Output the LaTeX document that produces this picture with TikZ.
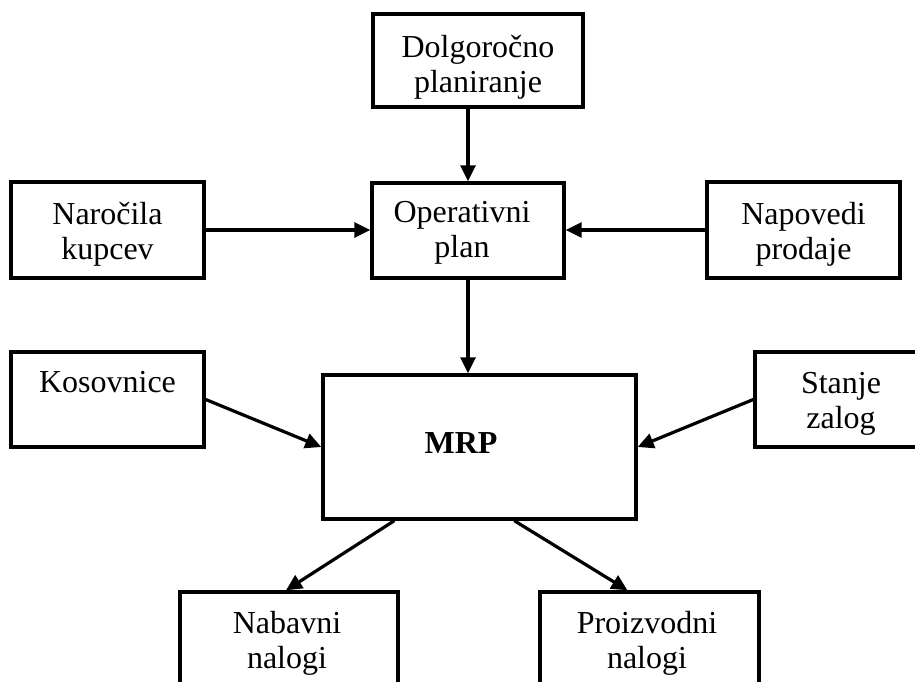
\documentclass[tikz,border=0pt]{standalone}
\usepackage{fontspec}
\setmainfont{Liberation Serif}
\usetikzlibrary{arrows.meta,calc}
% invisible strut fixing the height of a first text line above its baseline
\newcommand{\firstline}{\rule{0pt}{30pt}}
\begin{document}
\begin{tikzpicture}[x=1pt,y=-1pt,
  box/.style={draw=black,line width=3.4pt,rectangle,inner sep=0pt},
  label text/.style={inner sep=0pt,anchor=north,align=center,
    font=\fontsize{32}{35.5}\selectfont},
  flow/.style={draw=black,line width=3.2pt,
    -{Triangle[length=16pt,width=15pt]}}]
\useasboundingbox (0,0) rectangle (915,682);
\clip (0,0) rectangle (915,682);

% boxes
\node[box,minimum width=210pt,minimum height=93pt] (dolg) at (478,60.5) {};
\node[box,minimum width=192pt,minimum height=95pt] (oper) at (468,230.5) {};
\node[box,minimum width=193pt,minimum height=96pt] (naro) at (107.5,230) {};
\node[box,minimum width=193pt,minimum height=96pt] (napo) at (803.5,230) {};
\node[box,minimum width=193pt,minimum height=95pt] (kos) at (107.5,399.5) {};
\node[box,minimum width=313pt,minimum height=144pt] (mrp) at (479.5,447) {};
\node[box,minimum width=173pt,minimum height=95pt] (stanje) at (841.5,399.5) {};
\node[box,minimum width=218pt,minimum height=96pt] (nab) at (289,640) {};
\node[box,minimum width=219pt,minimum height=96pt] (proi) at (649.5,640) {};

% texts
\node[label text] (t-dolg) at (478,27) {\firstline Dolgoročno\\planiranje};
\node[label text] (t-oper) at (462,192) {\firstline Operativni\\plan};
\node[label text] (t-naro) at (107.5,194) {\firstline Naročila\\kupcev};
\node[label text] (t-napo) at (803.5,194) {\firstline Napovedi\\prodaje};
\node[label text] (t-kos) at (107.5,362) {\firstline Kosovnice};
\node[label text] (t-stanje) at (841,363) {\firstline Stanje\\zalog};
\node[label text,font=\fontsize{32}{35.5}\selectfont\bfseries] (t-mrp) at (461,423) {\firstline MRP};
\node[label text] (t-nab) at (287,603) {\firstline Nabavni\\nalogi};
\node[label text] (t-proi) at (647,603) {\firstline Proizvodni\\nalogi};

% connectors
\draw[flow] (dolg.south -| oper.north) -- (oper.north);
\draw[flow] (naro.east) -- (naro.east -| oper.west);
\draw[flow] (napo.west) -- (napo.west -| oper.east);
\draw[flow] (oper.south) -- (oper.south |- mrp.north);
\draw[flow] (kos.east) -- (mrp.west);
\draw[flow] (stanje.west) -- (mrp.east);
\draw[flow] ([xshift=73pt]mrp.south west) -- ([xshift=-3pt]nab.north);
\draw[flow] ([xshift=193pt]mrp.south west) -- ([xshift=-22pt]proi.north);
\end{tikzpicture}
\end{document}
